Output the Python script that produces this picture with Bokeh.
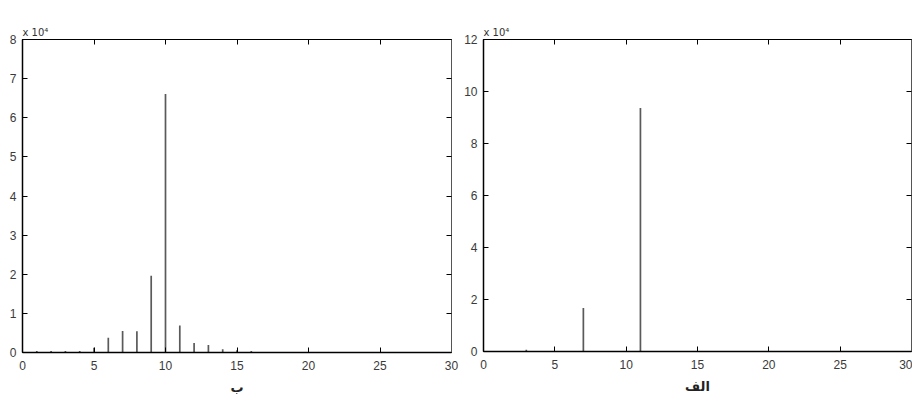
from bokeh.plotting import figure
from bokeh.layouts import row
from bokeh.models import Range1d, LinearAxis, FixedTicker, CustomJSTickFormatter
from bokeh.embed import file_html
from bokeh.resources import INLINE

# ---- data ----
x_ticks = [0, 5, 10, 15, 20, 25, 30]

left_x = [1, 2, 3, 4, 5, 6, 7, 8, 9, 10, 11, 12, 13, 14, 15, 16]
left_vals = [400, 400, 400, 400, 1200, 3800, 5500, 5400, 19600, 66100, 6900, 2400, 1900, 800, 600, 400]
left_yticks = [0, 10000, 20000, 30000, 40000, 50000, 60000, 70000, 80000]
left_label = "ب"

right_x = [3, 7, 11]
right_vals = [700, 16700, 93700]
right_yticks = [0, 20000, 40000, 60000, 80000, 100000, 120000]
right_label = "الف"

scale_text = "x 10⁴"

TICK_FONT = "Liberation Sans"
STEM_COLOR = "#5a5a5a"


def style_axis(ax, show_labels=True):
    ax.axis_line_color = "black"
    ax.axis_line_width = 1.5
    ax.major_tick_in = 5
    ax.major_tick_out = 0
    ax.major_tick_line_color = "black"
    ax.minor_tick_line_color = None
    ax.major_label_text_font = TICK_FONT
    ax.major_label_text_color = "#3a3a3a"
    ax.major_label_text_font_size = "12px"
    if show_labels:
        ax.major_label_standoff = 6
    else:
        ax.formatter = CustomJSTickFormatter(code="return '';")
        ax.major_label_standoff = 0


def make_panel(xs, vals, yticks, xlabel, fw, fh, mb_left, mb_right, mb_top):
    p = figure(frame_width=fw, frame_height=fh,
               x_range=Range1d(0, 30), y_range=Range1d(0, yticks[-1]),
               output_backend="svg", toolbar_location=None,
               min_border_left=mb_left, min_border_right=mb_right,
               min_border_top=mb_top, min_border_bottom=0)
    p.grid.visible = False
    p.outline_line_color = "black"
    p.outline_line_width = 1
    p.background_fill_color = "white"
    p.border_fill_color = "white"

    p.title.text = scale_text
    p.title.text_font = "DejaVu Sans"
    p.title.text_font_size = "10px"
    p.title.text_font_style = "normal"
    p.title.text_color = "#333333"
    p.title.align = "left"
    p.title.offset = 0
    p.title.standoff = 3

    p.segment(x0=xs, y0=[0] * len(xs), x1=xs, y1=vals,
              line_color=STEM_COLOR, line_width=1.7)

    fmt = CustomJSTickFormatter(code="return String(Math.round(tick/1e4));")

    xb = p.below[0]
    xb.ticker = FixedTicker(ticks=x_ticks)
    style_axis(xb)
    xb.major_label_standoff = 8
    xb.axis_label = xlabel
    xb.axis_label_text_font = "DejaVu Sans"
    xb.axis_label_text_font_style = "bold"
    xb.axis_label_text_font_size = "13px"
    xb.axis_label_text_color = "#222222"
    xb.axis_label_standoff = 7

    yl = p.left[0]
    yl.ticker = FixedTicker(ticks=yticks)
    yl.formatter = fmt
    style_axis(yl)

    xa = LinearAxis(ticker=FixedTicker(ticks=x_ticks))
    style_axis(xa, show_labels=False)
    xa.axis_line_width = 1
    p.add_layout(xa, "above")

    yr = LinearAxis(ticker=FixedTicker(ticks=yticks))
    style_axis(yr, show_labels=False)
    yr.axis_line_width = 1
    yr.axis_line_color = "#555555"
    p.add_layout(yr, "right")
    return p


p1 = make_panel(left_x, left_vals, left_yticks, left_label, 429, 313, 22, 8, 38)
p2 = make_panel(right_x, right_vals, right_yticks, right_label, 428, 312, 24, 1, 39)

layout = row(p1, p2, spacing=0)
open("out.html", "w").write(file_html(layout, INLINE))
